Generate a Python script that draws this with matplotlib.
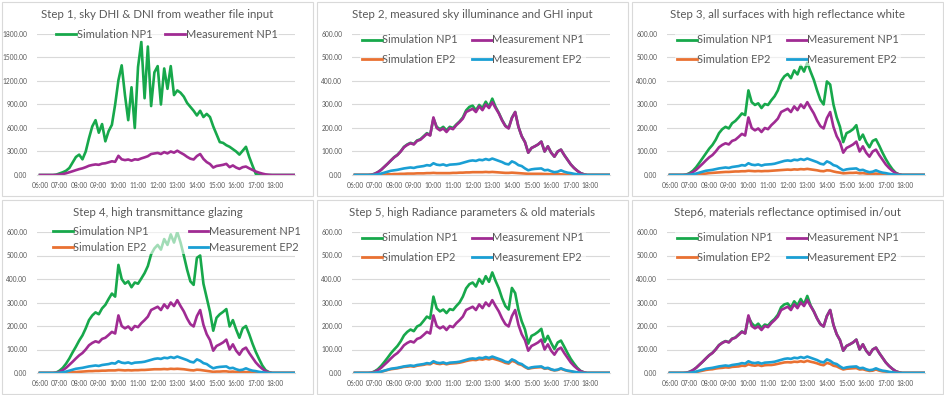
import matplotlib
matplotlib.use("Agg")
import matplotlib.pyplot as plt
from matplotlib.patches import Rectangle

# 10-minute steps from 06:00 to 19:00
times = ["%02d:%02d" % (h, m) for h in range(6, 19) for m in range(0, 60, 10)] + ["19:00"]
hours = [int(t[:2]) + int(t[3:]) / 60 for t in times]
tick_hours = list(range(6, 19))
tick_labels = ["%02d:00" % h for h in tick_hours]

meas_np1 = [0, 0, 0, 0, 0, 1,
            5, 12, 22, 35, 48, 62,
            75, 85, 100, 118, 128, 135,
            130, 145, 150, 162, 175, 168,
            245, 200, 190, 198, 183, 200,
            195, 212, 225, 240, 268, 275,
            282, 268, 292, 276, 300, 285,
            310, 285, 262, 232, 208, 198,
            242, 268, 205, 165, 140, 95,
            115, 122, 130, 142, 100, 122,
            95, 78, 100, 108, 85, 65,
            45, 30, 18, 8, 3, 0,
            0, 0, 0, 0, 0, 0, 0]

meas_ep2 = [0, 0, 0, 0, 0, 0,
            1, 3, 6, 10, 14, 18,
            20, 22, 25, 28, 30, 32,
            30, 34, 36, 38, 42, 40,
            50, 44, 42, 45, 40, 44,
            45, 46, 48, 52, 56, 60,
            62, 60, 65, 63, 68, 64,
            70, 65, 60, 55, 48, 45,
            58, 52, 42, 38, 28, 20,
            24, 26, 27, 28, 20, 22,
            16, 12, 14, 20, 14, 10,
            8, 5, 3, 1, 0, 0,
            0, 0, 0, 0, 0, 0, 0]

sim_np1_s1 = [0, 0, 0, 0, 0, 5,
              20, 35, 55, 90, 160, 230,
              260, 200, 300, 470, 620, 700,
              540, 650, 430, 560, 640, 900,
              1210, 1400, 1020, 700, 1120, 600,
              1380, 1700, 980, 1640, 880, 1310,
              1390, 900, 1360, 1100, 1390, 1020,
              1080, 1050, 1000, 920, 870, 820,
              760, 820, 740, 780, 740, 620,
              520, 420, 410, 380, 360, 330,
              300, 260, 310, 360, 230, 120,
              15, 0, 0, 0, 0, 0,
              0, 0, 0, 0, 0, 0, 0]

sim_np1_s2 = [0, 0, 0, 0, 0, 1,
              5, 12, 22, 35, 48, 62,
              76, 86, 101, 120, 130, 137,
              132, 147, 152, 165, 178, 170,
              240, 205, 195, 205, 190, 205,
              200, 215, 228, 245, 275, 290,
              295, 275, 298, 285, 312, 290,
              325, 290, 264, 234, 210, 200,
              244, 268, 205, 165, 140, 95,
              115, 122, 130, 142, 100, 122,
              95, 78, 100, 108, 85, 65,
              45, 30, 18, 8, 3, 0,
              0, 0, 0, 0, 0, 0, 0]

sim_np1_s3 = [0, 0, 0, 0, 0, 2,
              8, 18, 33, 52, 72, 92,
              112, 128, 150, 178, 195, 205,
              198, 220, 230, 245, 262, 255,
              360, 310, 298, 305, 285, 302,
              298, 318, 335, 360, 400, 420,
              430, 412, 445, 428, 465, 440,
              478, 440, 405, 360, 320, 300,
              398, 385, 300, 245, 205, 140,
              178, 185, 195, 212, 150, 172,
              140, 118, 145, 152, 125, 95,
              68, 45, 25, 10, 3, 0,
              0, 0, 0, 0, 0, 0, 0]

sim_np1_s4 = [0, 0, 0, 0, 0, 2,
              10, 22, 40, 62, 88, 112,
              138, 160, 190, 225, 245, 258,
              250, 275, 290, 315, 338, 325,
              460, 400, 380, 390, 365, 385,
              380, 402, 425, 455, 505, 530,
              545, 525, 570, 545, 590, 555,
              600, 555, 500, 440, 390, 375,
              490, 500, 380, 320, 260, 180,
              235, 250, 260, 272, 198, 225,
              185, 150, 190, 200, 165, 125,
              90, 60, 32, 12, 4, 0,
              0, 0, 0, 0, 0, 0, 0]

sim_np1_s5 = [0, 0, 0, 0, 0, 1,
              7, 16, 30, 47, 65, 84,
              100, 115, 135, 160, 175, 185,
              178, 198, 205, 222, 240, 232,
              325, 275, 262, 270, 255, 272,
              268, 285, 300, 325, 360, 378,
              385, 368, 400, 380, 412, 388,
              428, 392, 360, 318, 285, 270,
              362, 340, 268, 220, 185, 125,
              158, 165, 175, 188, 132, 158,
              128, 102, 130, 138, 112, 85,
              60, 40, 22, 9, 3, 0,
              0, 0, 0, 0, 0, 0, 0]

sim_np1_s6 = [0, 0, 0, 0, 0, 1,
              5, 12, 22, 35, 48, 62,
              76, 86, 101, 119, 129, 136,
              131, 146, 151, 164, 177, 169,
              238, 212, 198, 210, 192, 206,
              202, 218, 230, 248, 280, 292,
              296, 278, 305, 288, 315, 292,
              328, 288, 262, 232, 208, 198,
              243, 268, 205, 165, 140, 95,
              115, 122, 130, 142, 100, 122,
              95, 78, 100, 108, 85, 65,
              45, 30, 18, 8, 3, 0,
              0, 0, 0, 0, 0, 0, 0]

sim_ep2_s2 = [0, 0, 0, 0, 0, 0,
              0, 1, 1, 2, 3, 3,
              4, 4, 5, 5, 6, 6,
              6, 7, 7, 7, 8, 8,
              9, 8, 8, 8, 8, 8,
              9, 9, 10, 10, 11, 11,
              12, 12, 12, 12, 13, 12,
              13, 12, 11, 10, 9, 9,
              10, 9, 8, 7, 6, 5,
              5, 5, 5, 5, 4, 4,
              3, 3, 3, 3, 2, 2,
              1, 1, 0, 0, 0, 0,
              0, 0, 0, 0, 0, 0, 0]

sim_ep2_s3 = [0, 0, 0, 0, 0, 0,
              0, 1, 2, 3, 5, 6,
              8, 9, 10, 11, 12, 13,
              13, 14, 15, 15, 16, 16,
              18, 17, 16, 17, 16, 17,
              17, 18, 19, 20, 21, 22,
              23, 22, 24, 23, 25, 24,
              26, 24, 22, 20, 17, 16,
              20, 19, 15, 12, 10, 7,
              8, 9, 9, 10, 7, 8,
              6, 5, 5, 6, 4, 3,
              2, 1, 1, 0, 0, 0,
              0, 0, 0, 0, 0, 0, 0]

sim_ep2_s4 = [0, 0, 0, 0, 0, 0,
              0, 1, 1, 2, 3, 4,
              5, 6, 7, 8, 8, 9,
              9, 10, 10, 11, 11, 11,
              13, 12, 11, 12, 11, 12,
              12, 13, 13, 14, 15, 16,
              16, 16, 17, 16, 18, 17,
              18, 17, 16, 14, 12, 11,
              14, 13, 11, 9, 7, 5,
              6, 6, 7, 7, 5, 6,
              4, 3, 4, 4, 3, 2,
              1, 1, 0, 0, 0, 0,
              0, 0, 0, 0, 0, 0, 0]

sim_ep2_s5 = [0, 0, 0, 0, 0, 0,
              1, 3, 5, 9, 13, 16,
              18, 20, 23, 26, 27, 29,
              27, 31, 33, 35, 38, 37,
              45, 40, 38, 41, 37, 40,
              41, 42, 44, 47, 51, 54,
              56, 55, 59, 57, 61, 58,
              62, 58, 54, 49, 43, 40,
              52, 47, 38, 34, 25, 18,
              21, 23, 24, 25, 18, 20,
              14, 11, 13, 18, 13, 9,
              7, 4, 2, 1, 0, 0,
              0, 0, 0, 0, 0, 0, 0]

sim_ep2_s6 = [0, 0, 0, 0, 0, 0,
              1, 2, 4, 7, 10, 13,
              15, 16, 19, 21, 22, 24,
              23, 26, 27, 28, 31, 30,
              37, 33, 31, 34, 30, 33,
              34, 34, 36, 39, 42, 45,
              46, 45, 48, 47, 50, 47,
              52, 48, 45, 41, 36, 33,
              43, 39, 31, 28, 21, 15,
              18, 19, 20, 21, 15, 16,
              12, 9, 10, 15, 10, 7,
              6, 3, 2, 1, 0, 0,
              0, 0, 0, 0, 0, 0, 0]

titles = ["Step 1, sky DHI & DNI from weather file input",
          "Step 2, measured sky illuminance and GHI input",
          "Step 3, all surfaces with high reflectance white",
          "Step 4, high transmittance glazing",
          "Step 5, high Radiance parameters & old materials",
          "Step6, materials reflectance optimised in/out"]
sim_np1 = [sim_np1_s1, sim_np1_s2, sim_np1_s3, sim_np1_s4, sim_np1_s5, sim_np1_s6]
sim_ep2 = [None, sim_ep2_s2, sim_ep2_s3, sim_ep2_s4, sim_ep2_s5, sim_ep2_s6]

GREEN = "#17a84b"
PURPLE = "#a02b93"
ORANGE = "#e97132"
BLUE = "#1a9fd4"
TXT = "#595959"
GRID = "#d9d9d9"

W, H = 945, 395
plt.rcParams["font.family"] = ["Lato", "DejaVu Sans"]
fig = plt.figure(figsize=(W / 100, H / 100), dpi=100)


def fx(px):
    return px / W


def fy(py):
    return 1 - py / H


for i in range(6):
    c, r = i % 3, i // 3
    ox, oy = 315 * c, 198 * r
    # chart border
    fig.patches.append(Rectangle((fx(ox + 2), fy(oy + 196)), 311 / W, 194 / H,
                                 transform=fig.transFigure, fill=False,
                                 edgecolor=GRID, lw=0.8))
    ax = fig.add_axes([fx(ox + 37), fy(oy + 175), 258 / W, 141 / H])
    lw = 1.9
    ax.plot(hours, sim_np1[i], color=GREEN, lw=lw, label="Simulation NP1")
    ax.plot(hours, meas_np1, color=PURPLE, lw=lw, label="Measurement NP1")
    if sim_ep2[i] is not None:
        ax.plot(hours, sim_ep2[i], color=ORANGE, lw=lw, label="Simulation EP2")
        ax.plot(hours, meas_ep2, color=BLUE, lw=lw, label="Measurement EP2")
    ax.set_xlim(5.85, 19.0)
    if i == 0:
        ax.set_ylim(0, 1800)
        ax.set_yticks(range(0, 1801, 300))
    else:
        ax.set_ylim(0, 600)
        ax.set_yticks(range(0, 601, 100))
    ax.set_yticklabels(["%.2f" % v for v in ax.get_yticks()])
    ax.set_xticks(tick_hours)
    ax.set_xticklabels(tick_labels)
    ax.tick_params(axis="both", length=0, labelsize=4.8, labelcolor=TXT)
    ax.tick_params(axis="y", pad=7)
    ax.tick_params(axis="x", pad=5)
    ax.grid(axis="y", color=GRID, lw=0.8)
    ax.set_axisbelow(True)
    for s in ["top", "right", "left"]:
        ax.spines[s].set_visible(False)
    ax.spines["bottom"].set_color(GRID)
    ax.spines["bottom"].set_linewidth(0.8)

    fig.text(fx(ox + 157.5), fy(oy + 15), titles[i], ha="center", va="center",
             fontsize=8.3, color=TXT)

    handles, labels = ax.get_legend_handles_labels()
    common = dict(ncol=2, loc="center", bbox_transform=fig.transFigure,
                  fontsize=7.9, labelcolor=TXT, handlelength=1.8,
                  handletextpad=0.05, borderpad=0.15, borderaxespad=0,
                  facecolor="white", edgecolor="none", framealpha=0.6,
                  fancybox=False)
    if i == 0:
        leg = ax.legend(handles, labels,
                        bbox_to_anchor=(fx(ox + 167), fy(oy + 34)),
                        columnspacing=1.2, **common)
    else:
        order = [0, 2, 1, 3]
        handles = [handles[k] for k in order]
        labels = [labels[k] for k in order]
        if i == 3:
            leg = ax.legend(handles, labels,
                            bbox_to_anchor=(fx(ox + 177), fy(oy + 41.5)),
                            columnspacing=3.6, labelspacing=0.4, **common)
        else:
            leg = ax.legend(handles, labels,
                            bbox_to_anchor=(fx(ox + 158), fy(oy + 49.5)),
                            columnspacing=1.3, labelspacing=0.75, **common)
    leg.set_zorder(5)
    for h in leg.legend_handles:
        h.set_linewidth(2.0)

fig.savefig("out.png", dpi=100)
